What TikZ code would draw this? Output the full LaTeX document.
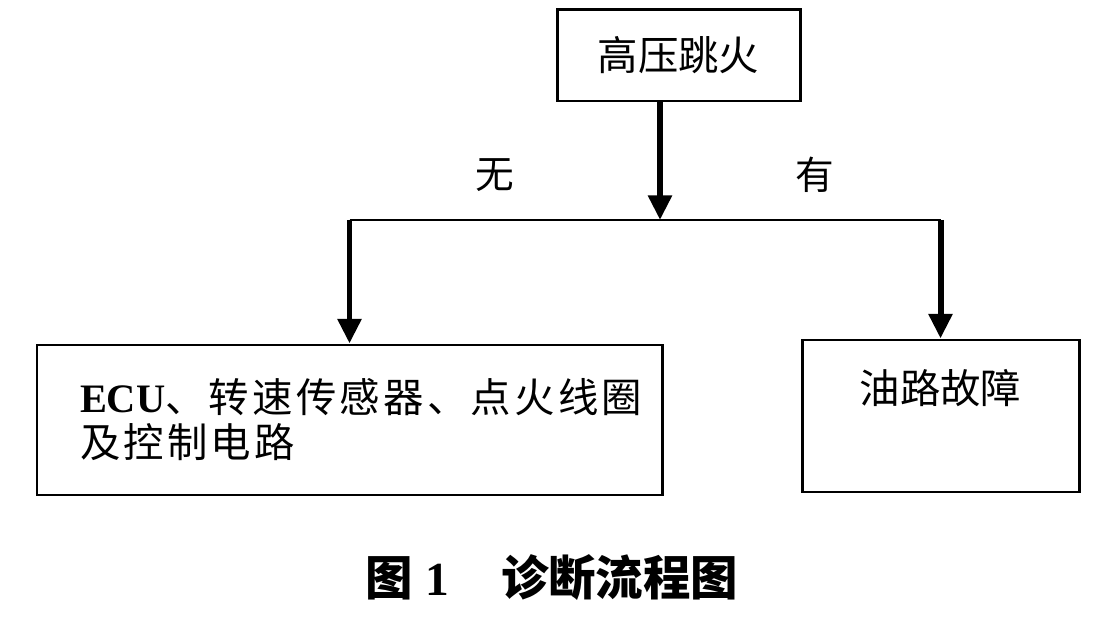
\documentclass[tikz,border=0pt]{standalone}
\usepackage{fontspec}
\setmainfont{Liberation Serif}
\newfontfamily\cjk{Noto Sans CJK SC}
\newfontfamily\cjkwide[LetterSpace=8]{Noto Sans CJK SC}
\usetikzlibrary{arrows.meta, positioning, calc}
\tikzset{
  box/.style={draw, line width=1.7pt, inner sep=0pt, font=\cjk\fontsize{23}{26}\selectfont},
  flow/.style={line width=3.4pt, -{Triangle[width=13pt,length=14pt]}},
  branch/.style={line width=1.7pt},
  tag/.style={font=\cjk\fontsize{22}{26}\selectfont}
}

\begin{document}
\begin{tikzpicture}
  \useasboundingbox (0,0) rectangle (21.94,12.64);

  % Start
  \node[box, minimum width=4.86cm, minimum height=1.82cm] (spark) at (13.57, 11.53) {高压跳火};
  \coordinate (split) at (13.2, 8.24);

  % Results
  \node[box, minimum width=12.5cm, minimum height=3cm, text width=10.78cm, inner xsep=0.86cm, align=left,
        font=\cjkwide\fontsize{23}{25.6}\selectfont] (circuit) at (6.99, 4.24)
        {{\rmfamily\bfseries ECU}、转速传感器、点火线圈\\及控制电路};
  \node[box, minimum width=5.54cm, minimum height=3.04cm, text depth=1.2cm] (fuel) at (18.81, 4.32) {油路故障};

  % Branches
  \draw[flow] (spark.south -| split) -- (split);
  \draw[branch] (circuit.north |- split) -- (fuel.north |- split);
  \draw[flow] (circuit.north |- split) -- (circuit.north);
  \draw[flow] (fuel.north |- split) -- (fuel.north);

  \node[tag] (no) at (9.9, 9.14) {无};
  \node[tag] (yes) at (16.3, 9.14) {有};

  % Caption
  \node[font=\cjk\bfseries\fontsize{27}{30}\selectfont] (caption) at (11.04, 1.08)
        {图\hspace{0.25em}{\rmfamily\bfseries 1}\hspace{1.1em}诊断流程图};
\end{tikzpicture}
\end{document}
